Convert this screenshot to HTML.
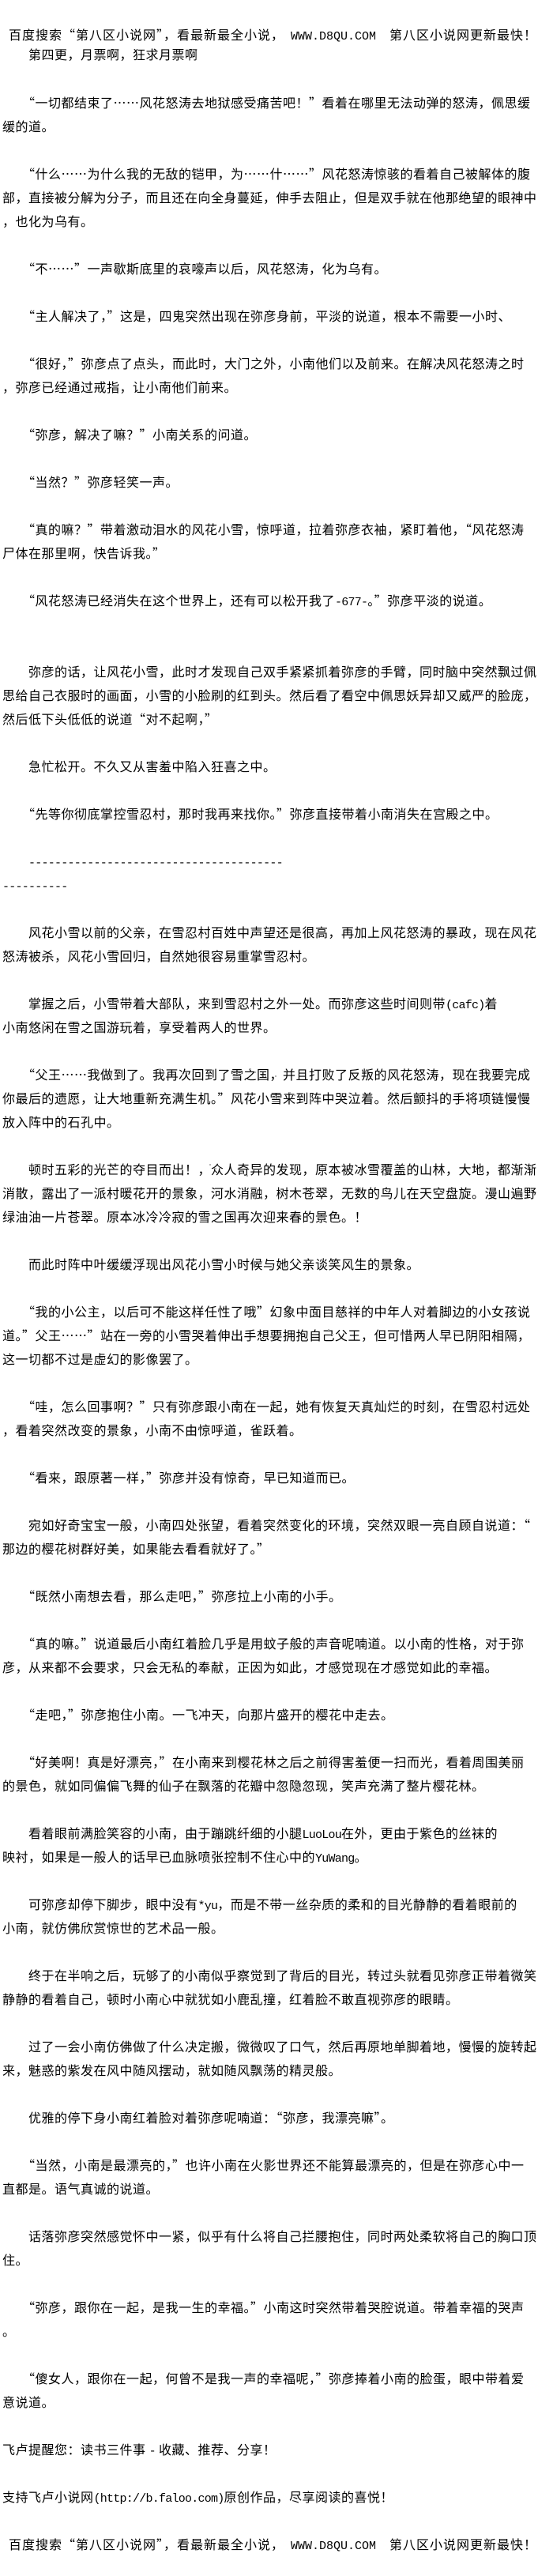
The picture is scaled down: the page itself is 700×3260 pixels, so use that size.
<!DOCTYPE html>
<html lang="zh-CN"><head><meta charset="utf-8"><title>第四更</title>
<style>
html,body{margin:0;padding:0;background:#fff}
#p{position:relative;width:700px;height:3260px;overflow:hidden;background:#fff;color:#000;font-family:"WenQuanYi Zen Hei","Noto Sans CJK SC",sans-serif;font-size:16px;letter-spacing:.5px;line-height:30px}
#p div{position:absolute;left:3px;white-space:pre}
#p span{font-family:"Liberation Mono",monospace;font-size:15px;letter-spacing:-.75px}
#p div.h{letter-spacing:1px}
#p div.h span{letter-spacing:0}
svg{position:absolute;left:0;top:0}
</style></head><body><div id="p">
<div class="h" style="top:28px;left:11px">百度搜索“第八区小说网”，看最新最全小说，</div><div class="h" style="top:28px;left:368px"><span>WWW.D8QU.COM</span></div><div class="h" style="top:28px;left:493px">第八区小说网更新最快！</div>
<div style="top:53px">　　第四更，月票啊，狂求月票啊</div>
<div style="top:114px">　　“一切都结束了……风花怒涛去地狱感受痛苦吧！”看着在哪里无法动弹的怒涛，佩思缓</div>
<div style="top:144px">缓的道。</div>
<div style="top:204px">　　“什么……为什么我的无敌的铠甲，为……什……”风花怒涛惊骇的看着自己被解体的腹</div>
<div style="top:234px">部，直接被分解为分子，而且还在向全身蔓延，伸手去阻止，但是双手就在他那绝望的眼神中</div>
<div style="top:264px">，也化为乌有。</div>
<div style="top:324px">　　“不……”一声歇斯底里的哀嚎声以后，风花怒涛，化为乌有。</div>
<div style="top:384px">　　“主人解决了，”这是，四鬼突然出现在弥彦身前，平淡的说道，根本不需要一小时、</div>
<div style="top:444px">　　“很好，”弥彦点了点头，而此时，大门之外，小南他们以及前来。在解决风花怒涛之时</div>
<div style="top:474px">，弥彦已经通过戒指，让小南他们前来。</div>
<div style="top:534px">　　“弥彦，解决了嘛？”小南关系的问道。</div>
<div style="top:594px">　　“当然？”弥彦轻笑一声。</div>
<div style="top:654px">　　“真的嘛？”带着激动泪水的风花小雪，惊呼道，拉着弥彦衣袖，紧盯着他，“风花怒涛</div>
<div style="top:684px">尸体在那里啊，快告诉我。”</div>
<div style="top:744px">　　“风花怒涛已经消失在这个世界上，还有可以松开我了<span>-677-</span>。”弥彦平淡的说道。</div>
<div style="top:834px">　　弥彦的话，让风花小雪，此时才发现自己双手紧紧抓着弥彦的手臂，同时脑中突然飘过佩</div>
<div style="top:864px">思给自己衣服时的画面，小雪的小脸刷的红到头。然后看了看空中佩思妖异却又威严的脸庞，</div>
<div style="top:894px">然后低下头低低的说道“对不起啊，”</div>
<div style="top:954px">　　急忙松开。不久又从害羞中陷入狂喜之中。</div>
<div style="top:1014px">　　“先等你彻底掌控雪忍村，那时我再来找你。”弥彦直接带着小南消失在宫殿之中。</div>
<div style="top:1074px">　　<span>---------------------------------------</span></div>
<div style="top:1104px"><span>----------</span></div>
<div style="top:1164px">　　风花小雪以前的父亲，在雪忍村百姓中声望还是很高，再加上风花怒涛的暴政，现在风花</div>
<div style="top:1194px">怒涛被杀，风花小雪回归，自然她很容易重掌雪忍村。</div>
<div style="top:1254px">　　掌握之后，小雪带着大部队，来到雪忍村之外一处。而弥彦这些时间则带<span>(cafc)</span>着</div>
<div style="top:1284px">小南悠闲在雪之国游玩着，享受着两人的世界。</div>
<div style="top:1344px">　　“父王……我做到了。我再次回到了雪之国，并且打败了反叛的风花怒涛，现在我要完成</div>
<div style="top:1374px">你最后的遗愿，让大地重新充满生机。”风花小雪来到阵中哭泣着。然后颤抖的手将项链慢慢</div>
<div style="top:1404px">放入阵中的石孔中。</div>
<div style="top:1464px">　　顿时五彩的光芒的夺目而出！，众人奇异的发现，原本被冰雪覆盖的山林，大地，都渐渐</div>
<div style="top:1494px">消散，露出了一派村暖花开的景象，河水消融，树木苍翠，无数的鸟儿在天空盘旋。漫山遍野</div>
<div style="top:1524px">绿油油一片苍翠。原本冰冷冷寂的雪之国再次迎来春的景色。！</div>
<div style="top:1584px">　　而此时阵中叶缓缓浮现出风花小雪小时候与她父亲谈笑风生的景象。</div>
<div style="top:1644px">　　“我的小公主，以后可不能这样任性了哦”幻象中面目慈祥的中年人对着脚边的小女孩说</div>
<div style="top:1674px">道。”父王……”站在一旁的小雪哭着伸出手想要拥抱自己父王，但可惜两人早已阴阳相隔，</div>
<div style="top:1704px">这一切都不过是虚幻的影像罢了。</div>
<div style="top:1764px">　　“哇，怎么回事啊？”只有弥彦跟小南在一起，她有恢复天真灿烂的时刻，在雪忍村远处</div>
<div style="top:1794px">，看着突然改变的景象，小南不由惊呼道，雀跃着。</div>
<div style="top:1854px">　　“看来，跟原著一样，”弥彦并没有惊奇，早已知道而已。</div>
<div style="top:1914px">　　宛如好奇宝宝一般，小南四处张望，看着突然变化的环境，突然双眼一亮自顾自说道：“</div>
<div style="top:1944px">那边的樱花树群好美，如果能去看看就好了。”</div>
<div style="top:2004px">　　“既然小南想去看，那么走吧，”弥彦拉上小南的小手。</div>
<div style="top:2064px">　　“真的嘛。”说道最后小南红着脸几乎是用蚊子般的声音呢喃道。以小南的性格，对于弥</div>
<div style="top:2094px">彦，从来都不会要求，只会无私的奉献，正因为如此，才感觉现在才感觉如此的幸福。</div>
<div style="top:2154px">　　“走吧，”弥彦抱住小南。一飞冲天，向那片盛开的樱花中走去。</div>
<div style="top:2214px">　　“好美啊！真是好漂亮，”在小南来到樱花林之后之前得害羞便一扫而光，看着周围美丽</div>
<div style="top:2244px">的景色，就如同偏偏飞舞的仙子在飘落的花瓣中忽隐忽现，笑声充满了整片樱花林。</div>
<div style="top:2304px">　　看着眼前满脸笑容的小南，由于蹦跳纤细的小腿<span>LuoLou</span>在外，更由于紫色的丝袜的</div>
<div style="top:2334px">映衬，如果是一般人的话早已血脉喷张控制不住心中的<span>YuWang</span>。</div>
<div style="top:2394px">　　可弥彦却停下脚步，眼中没有<span>*yu</span>，而是不带一丝杂质的柔和的目光静静的看着眼前的</div>
<div style="top:2424px">小南，就仿佛欣赏惊世的艺术品一般。</div>
<div style="top:2484px">　　终于在半响之后，玩够了的小南似乎察觉到了背后的目光，转过头就看见弥彦正带着微笑</div>
<div style="top:2514px">静静的看着自己，顿时小南心中就犹如小鹿乱撞，红着脸不敢直视弥彦的眼睛。</div>
<div style="top:2574px">　　过了一会小南仿佛做了什么决定搬，微微叹了口气，然后再原地单脚着地，慢慢的旋转起</div>
<div style="top:2604px">来，魅惑的紫发在风中随风摆动，就如随风飘荡的精灵般。</div>
<div style="top:2664px">　　优雅的停下身小南红着脸对着弥彦呢喃道：“弥彦，我漂亮嘛”。</div>
<div style="top:2724px">　　“当然，小南是最漂亮的，”也许小南在火影世界还不能算最漂亮的，但是在弥彦心中一</div>
<div style="top:2754px">直都是。语气真诚的说道。</div>
<div style="top:2814px">　　话落弥彦突然感觉怀中一紧，似乎有什么将自己拦腰抱住，同时两处柔软将自己的胸口顶</div>
<div style="top:2844px">住。</div>
<div style="top:2904px">　　“弥彦，跟你在一起，是我一生的幸福。”小南这时突然带着哭腔说道。带着幸福的哭声</div>
<div style="top:2934px">。</div>
<div style="top:2994px">　　“傻女人，跟你在一起，何曾不是我一声的幸福呢，”弥彦捧着小南的脸蛋，眼中带着爱</div>
<div style="top:3024px">意说道。</div>
<div style="top:3084px">飞卢提醒您：读书三件事 <span>-</span> 收藏、推荐、分享！</div>
<div style="top:3144px">支持飞卢小说网<span>(http://b.faloo.com)</span>原创作品，尽享阅读的喜悦！</div>
<div class="h" style="top:3204px;left:11px">百度搜索“第八区小说网”，看最新最全小说，</div><div class="h" style="top:3204px;left:368px"><span>WWW.D8QU.COM</span></div><div class="h" style="top:3204px;left:493px">第八区小说网更新最快！</div>
<svg width="700" height="3260" fill="#b5b5b5"><rect x="316" y="1352" width="2" height="2"/><rect x="322" y="1356" width="2" height="2"/><rect x="330" y="1360" width="2" height="2"/><rect x="348" y="1361" width="2" height="2"/><rect x="366" y="1382" width="2" height="2"/><rect x="372" y="1385" width="2" height="2"/><rect x="392" y="1389" width="2" height="2"/><rect x="398" y="1394" width="2" height="2"/><rect x="265" y="1473" width="2" height="2"/><rect x="272" y="1478" width="2" height="2"/><rect x="306" y="1483" width="2" height="2"/><rect x="312" y="1487" width="2" height="2"/><rect x="230" y="1596" width="2" height="2"/><rect x="240" y="1602" width="2" height="2"/><rect x="263" y="1604" width="2" height="2"/><rect x="378" y="1660" width="2" height="2"/><rect x="386" y="1664" width="2" height="2"/><rect x="396" y="1662" width="2" height="2"/><rect x="415" y="1682" width="2" height="2"/><rect x="420" y="1688" width="2" height="2"/></svg>
</div></body></html>
